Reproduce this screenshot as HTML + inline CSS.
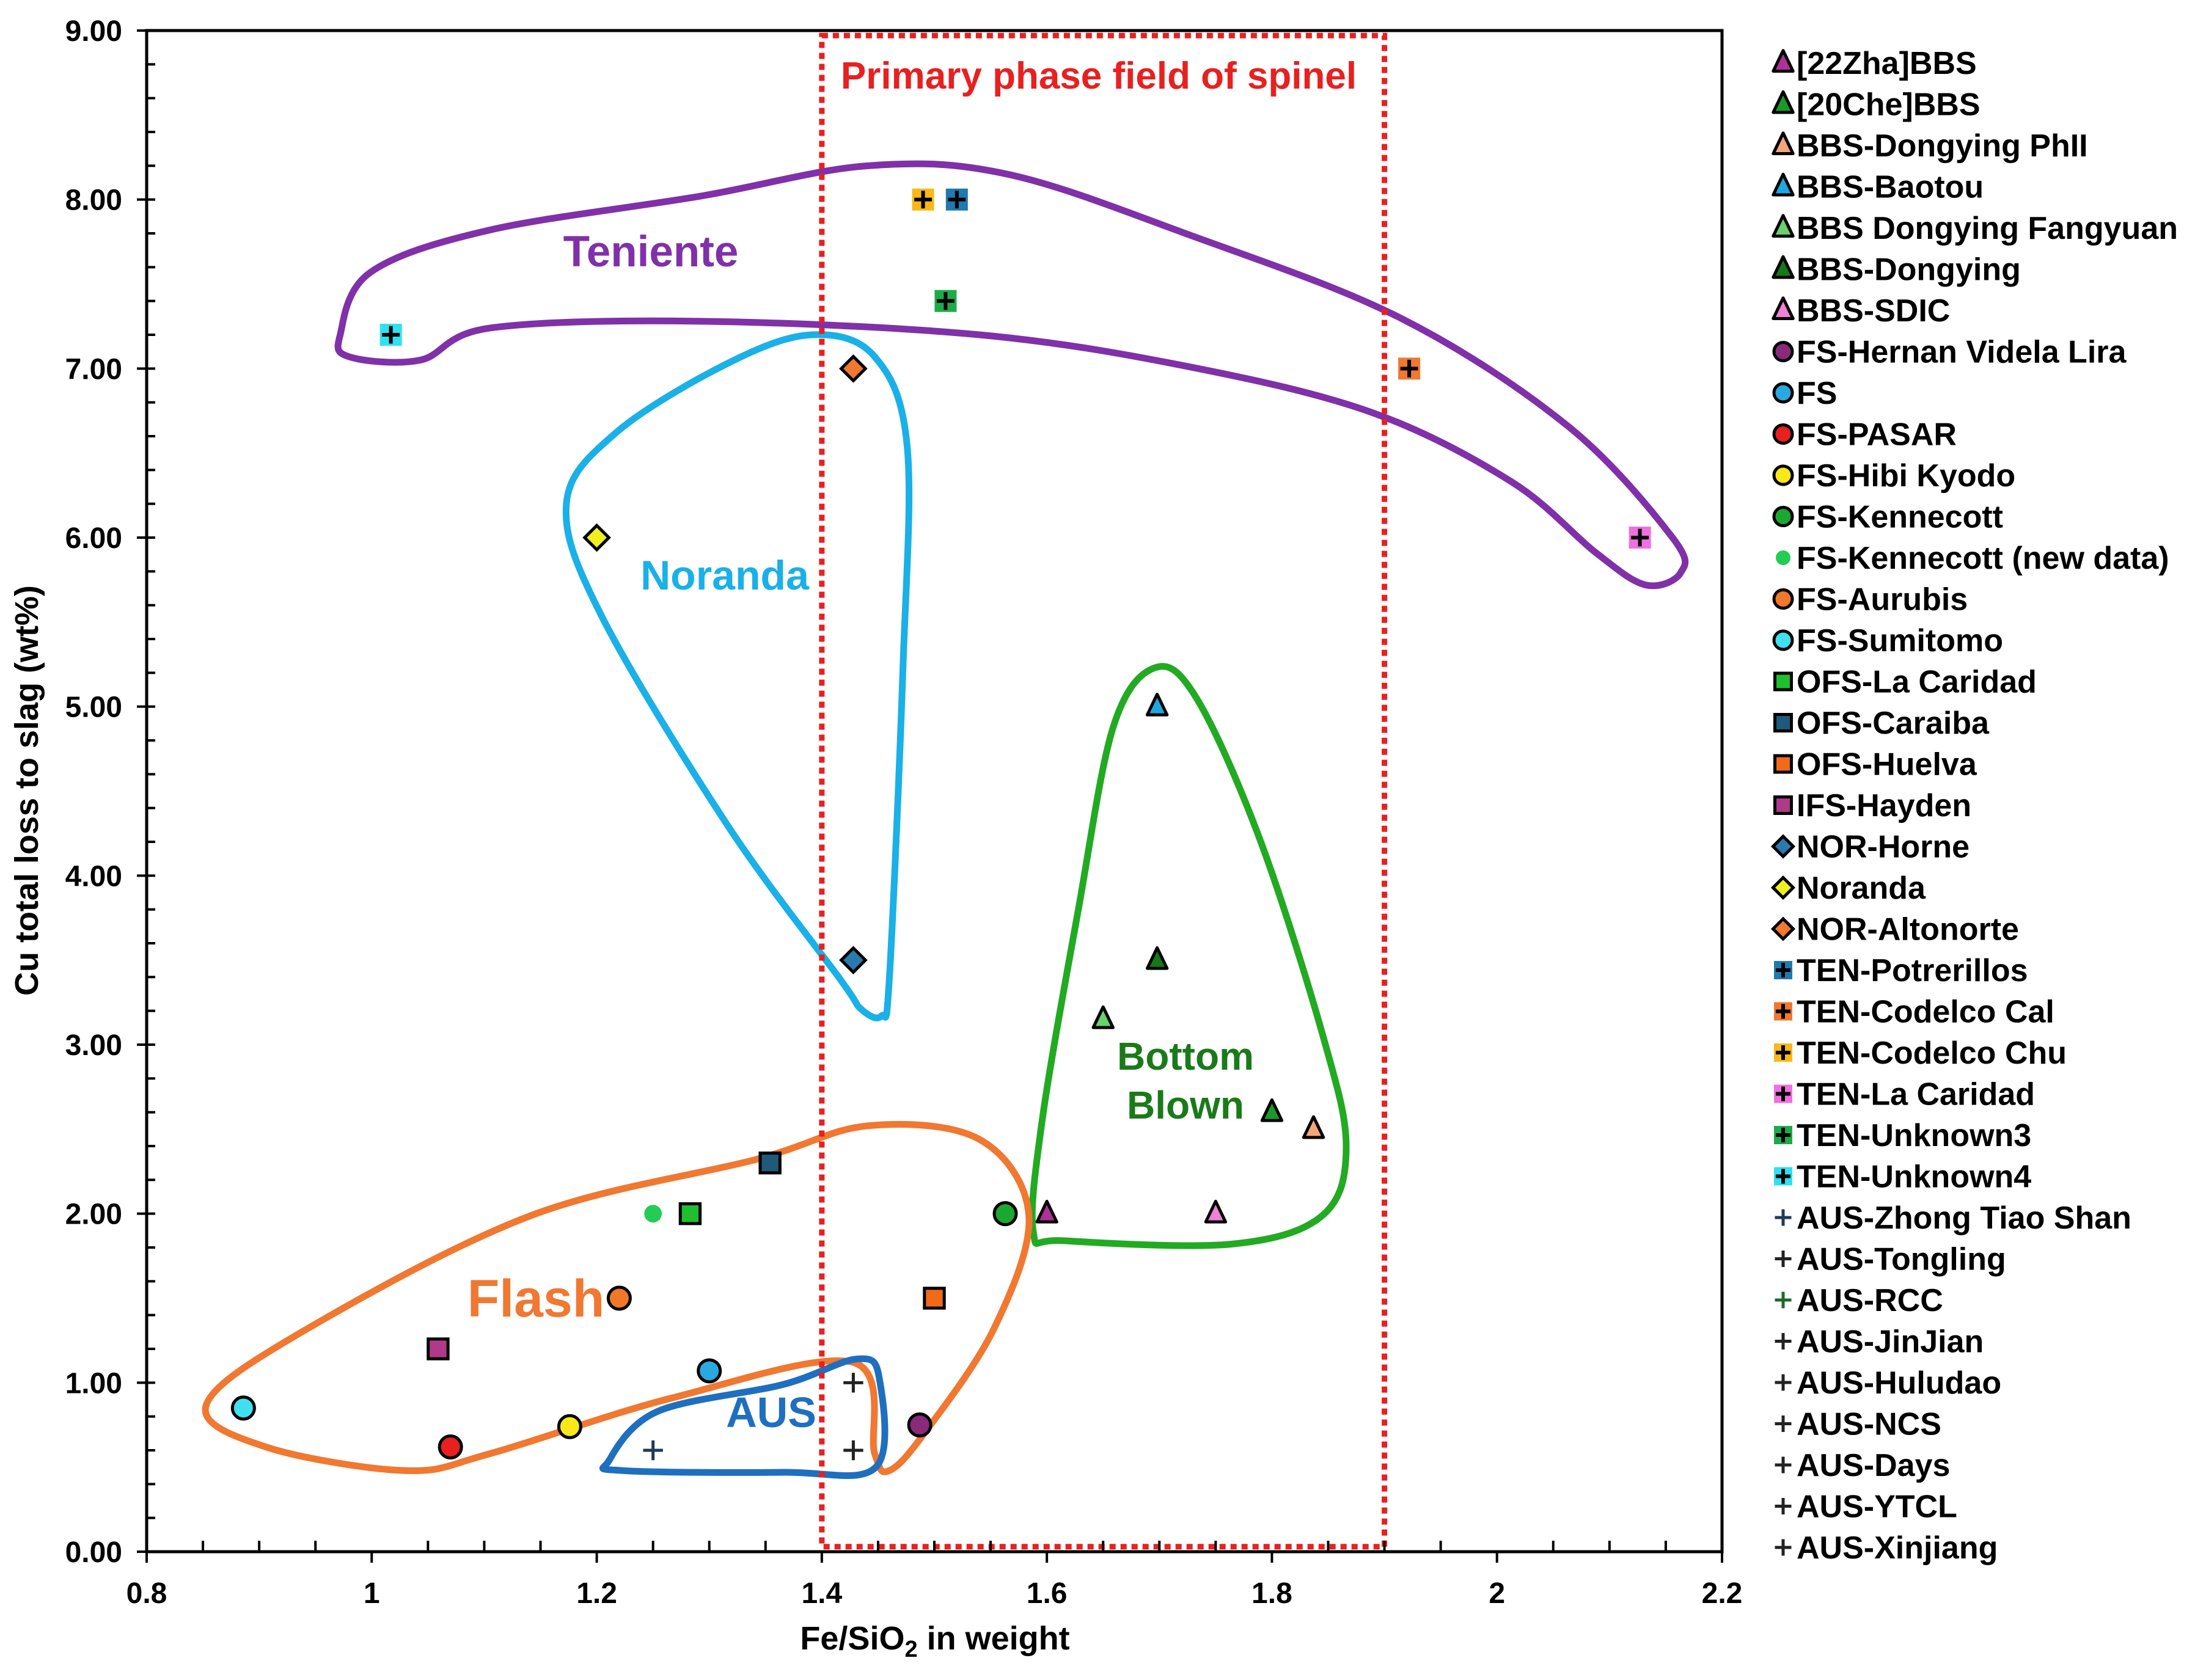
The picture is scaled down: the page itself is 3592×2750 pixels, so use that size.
<!DOCTYPE html>
<html><head><meta charset="utf-8"><style>
html,body{margin:0;padding:0;background:#fff}
svg text{font-family:"Liberation Sans",Arial,sans-serif;font-weight:bold}
</style></head><body>
<svg id="chart" width="3592" height="2745" viewBox="0 0 3592 2745" xmlns="http://www.w3.org/2000/svg">
<rect width="3592" height="2745" fill="#fff"/>
<g id="regions"></g><g id="axes"></g><g id="marks"></g><g id="legend"></g>
</svg>
<script>
const xTicks=[0.8,1,1.2,1.4,1.6,1.8,2,2.2];
const yTicks=[0,1,2,3,4,5,6,7,8,9];
const seriesNames=["[22Zha]BBS","[20Che]BBS","BBS-Dongying PhII","BBS-Baotou","BBS Dongying Fangyuan","BBS-Dongying","BBS-SDIC","FS-Hernan Videla Lira","FS","FS-PASAR","FS-Hibi Kyodo","FS-Kennecott","FS-Kennecott (new data)","FS-Aurubis","FS-Sumitomo","OFS-La Caridad","OFS-Caraiba","OFS-Huelva","IFS-Hayden","NOR-Horne","Noranda","NOR-Altonorte","TEN-Potrerillos","TEN-Codelco Cal","TEN-Codelco Chu","TEN-La Caridad","TEN-Unknown3","TEN-Unknown4","AUS-Zhong Tiao Shan","AUS-Tongling","AUS-RCC","AUS-JinJian","AUS-Huludao","AUS-NCS","AUS-Days","AUS-YTCL","AUS-Xinjiang"];
const seriesShapes=["tri","tri","tri","tri","tri","tri","tri","circ","circ","circ","circ","circ","dot","circ","circ","sq","sq","sq","sq","dia","dia","dia","tplus","tplus","tplus","tplus","tplus","tplus","plus","plus","plus","plus","plus","plus","plus","plus","plus"];
const seriesColors=["#b0309a","#1a9a2a","#f4a57a","#1fa8e0","#6ad06a","#157a15","#f080d8","#8a2a7a","#2aa8e0","#e82020","#f8e818","#1aa830","#22cc55","#f07828","#40e0f0","#1fbf2f","#1f5a7a","#f06a1a","#b03a8a","#2a7ab0","#f0f020","#f07830","#1f7ab0","#f07830","#f8b818","#f070e0","#1faa4a","#30e0f0","#1f3a5a","#222","#1a6a2a","#222","#222","#222","#222","#222","#222"];
const ptsX=[[1.6],[1.8],[1.837],[1.698],[1.65],[1.698],[1.75],[1.487],[1.3],[1.07],[1.176],[1.563],[1.25],[1.22],[0.886],[1.283],[1.354],[1.5],[1.059],[1.428],[1.2],[1.428],[1.52],[1.922],[1.49],[2.127],[1.51],[1.017],[1.25],[1.428],[],[1.428],[],[],[],[],[]];
const ptsY=[[2],[2.6],[2.5],[5],[3.15],[3.5],[2],[0.75],[1.07],[0.62],[0.74],[2],[2],[1.5],[0.85],[2],[2.3],[1.5],[1.2],[3.5],[6],[7],[8],[7],[8],[6],[7.4],[7.2],[0.6],[1.0],[],[0.6],[],[],[],[],[]];
const tenienteRegion=[[0.972,7.20],[0.999,7.57],[1.105,7.82],[1.292,8.02],[1.441,8.20],[1.565,8.15],[1.727,7.79],[1.914,7.30],[2.063,6.66],[2.156,6.00],[2.163,5.79],[2.132,5.72],[2.088,5.91],[2.013,6.33],[1.889,6.74],[1.727,7.01],[1.540,7.20],[1.292,7.28],[1.105,7.24],[1.043,7.05],[0.980,7.07]];
const norandaRegion=[[1.391,7.20],[1.447,7.07],[1.476,6.53],[1.472,5.21],[1.460,3.39],[1.453,3.17],[1.435,3.21],[1.416,3.39],[1.316,4.30],[1.204,5.54],[1.173,6.20],[1.217,6.62],[1.316,7.03]];
const bottomRegion=[[1.696,5.23],[1.733,5.05],[1.789,4.22],[1.845,3.06],[1.866,2.40],[1.845,1.99],[1.764,1.82],[1.615,1.84],[1.588,1.89],[1.596,2.56],[1.628,3.80],[1.659,4.88]];
const flashRegion=[[0.853,0.87],[0.943,1.32],[1.142,1.99],[1.341,2.32],[1.441,2.52],[1.540,2.44],[1.584,1.99],[1.553,1.32],[1.491,0.70],[1.460,0.48],[1.447,0.58],[1.428,1.12],[1.267,0.91],[1.105,0.58],[1.030,0.48],[0.906,0.62]];
const ausRegion=[[1.211,0.54],[1.254,0.83],[1.366,0.99],[1.431,1.14],[1.451,1.03],[1.448,0.50],[1.366,0.47],[1.223,0.48]];
const NS="http://www.w3.org/2000/svg";
const L=240,R=2818,T=50,B=2540;
const X=v=>L+(v-0.8)/1.4*(R-L);
const Y=v=>B-v/9*(B-T);
function mk(tag,attrs,parent,text){const e=document.createElementNS(NS,tag);for(const k in attrs)e.setAttribute(k,attrs[k]);if(text!==undefined)e.textContent=text;parent.appendChild(e);return e;}
function smooth(pts){const p=pts.map(q=>[X(q[0]),Y(q[1])]);const n=p.length;let d=`M${p[0][0]},${p[0][1]}`;for(let i=0;i<n;i++){const p0=p[(i-1+n)%n],p1=p[i],p2=p[(i+1)%n],p3=p[(i+2)%n];d+=`C${p1[0]+(p2[0]-p0[0])/6},${p1[1]+(p2[1]-p0[1])/6} ${p2[0]-(p3[0]-p1[0])/6},${p2[1]-(p3[1]-p1[1])/6} ${p2[0]},${p2[1]}`;}return d+"Z";}
const rg=document.getElementById('regions');
[[tenienteRegion,"#8030a8","teniente-region"],[norandaRegion,"#1ab0e8","noranda-region"],[bottomRegion,"#22aa22","bottom-blown-region"],[flashRegion,"#f07830","flash-region"],[ausRegion,"#1f6fc0","aus-region"]].forEach(r=>{
 const e=mk('path',{d:smooth(r[0]),fill:"none",stroke:r[1],"stroke-width":11},rg);
 
 
});
const box=mk('rect',{x:X(1.4),y:Y(8.97),width:X(1.9)-X(1.4),height:Y(0.03)-Y(8.97),fill:"none",stroke:"#e82020","stroke-width":9,"stroke-dasharray":"10 8"},rg);


[["Primary phase field of spinel",1798,145,62,"#e82020","spinel-label"],["Teniente",1065,436,71,"#8030a8","teniente-label"],["Noranda",1186,965,68,"#1ab0e8","noranda-label"],["Bottom",1940,1751,64,"#1a7a1a","bottom-label"],["Blown",1940,1831,64,"#1a7a1a","blown-label"],["Flash",877,2155,86,"#f07830","flash-label"],["AUS",1262,2336,70,"#1f6fc0","aus-label"]].forEach(t=>{
 const e=mk('text',{x:t[1],y:t[2],"font-size":t[3],fill:t[4],"text-anchor":"middle"},rg,t[0]);
 
 
});
const ax=document.getElementById('axes');
const frame=mk('rect',{x:L,y:T,width:R-L,height:B-T,fill:"none",stroke:"#000","stroke-width":5},ax);


for(let v=0.8;v<=2.2001;v+=0.05){const major=Math.abs(v*5-Math.round(v*5))<1e-6;mk('line',{x1:X(v),x2:X(v),y1:major?B+18:B-18,y2:B,stroke:"#000","stroke-width":4},ax);}
for(let v=0;v<=9.001;v+=0.2){const major=Math.abs(v-Math.round(v))<1e-6;mk('line',{x1:major?L-16:L,x2:L+14,y1:Y(v),y2:Y(v),stroke:"#000","stroke-width":4},ax);}
xTicks.forEach(v=>{const e=mk('text',{x:X(v),y:2624,"font-size":48,"text-anchor":"middle"},ax,String(v));
 
 });
yTicks.forEach(v=>{const e=mk('text',{x:200,y:Y(v)+17,"font-size":48,"text-anchor":"end"},ax,v.toFixed(2));
 
 });
const xt=mk('text',{x:1530,y:2700,"font-size":54,"text-anchor":"middle"},ax);
xt.innerHTML='Fe/SiO<tspan font-size="38" dy="12">2</tspan><tspan dy="-12"> in weight</tspan>';


const yt=mk('text',{x:0,y:0,"font-size":54,"text-anchor":"middle",transform:"translate(62,1294) rotate(-90)"},ax,"Cu total loss to slag (wt%)");


function marker(g,shape,col,cx,cy,s){
 if(shape==="tri")mk('path',{d:`M${cx},${cy-s*0.75}L${cx+s*0.6},${cy+s*0.5}L${cx-s*0.6},${cy+s*0.5}Z`,fill:col,stroke:"#000","stroke-width":5,"stroke-linejoin":"round"},g);
 else if(shape==="circ")mk('circle',{cx,cy,r:s*0.5,fill:col,stroke:"#000","stroke-width":5},g);
 else if(shape==="dot")mk('circle',{cx,cy,r:s*0.4,fill:col},g);
 else if(shape==="sq")mk('rect',{x:cx-s*0.45,y:cy-s*0.45,width:s*0.9,height:s*0.9,fill:col,stroke:"#000","stroke-width":5},g);
 else if(shape==="dia")mk('path',{d:`M${cx},${cy-s*0.55}L${cx+s*0.55},${cy}L${cx},${cy+s*0.55}L${cx-s*0.55},${cy}Z`,fill:col,stroke:"#000","stroke-width":5},g);
 else if(shape==="tplus"){mk('rect',{x:cx-s*0.5,y:cy-s*0.5,width:s,height:s,fill:col},g);mk('path',{d:`M${cx-s*0.4},${cy}H${cx+s*0.4}M${cx},${cy-s*0.4}V${cy+s*0.4}`,stroke:"#000","stroke-width":6},g);}
 else mk('path',{d:`M${cx-s*0.45},${cy}H${cx+s*0.45}M${cx},${cy-s*0.45}V${cy+s*0.45}`,stroke:col,"stroke-width":5},g);
}
const mg=document.getElementById('marks');
seriesNames.forEach((n,i)=>{
 ptsX[i].forEach((xv,j)=>{
  const g=mk('g',{},mg);
  
  
  marker(g,seriesShapes[i],seriesColors[i],X(xv),Y(ptsY[i][j]),seriesShapes[i]==="tri"?27:36);
 });
});
const lg=document.getElementById('legend');
seriesNames.forEach((n,i)=>{
 const y=103+i*67.5;
 const g=mk('g',{},lg);
 
 
 marker(g,seriesShapes[i],seriesColors[i],2918,y,seriesShapes[i]==="tri"?27:30);
 mk('text',{x:2940,y:y+18,"font-size":52},g,n);
});
</script>
</body></html>
